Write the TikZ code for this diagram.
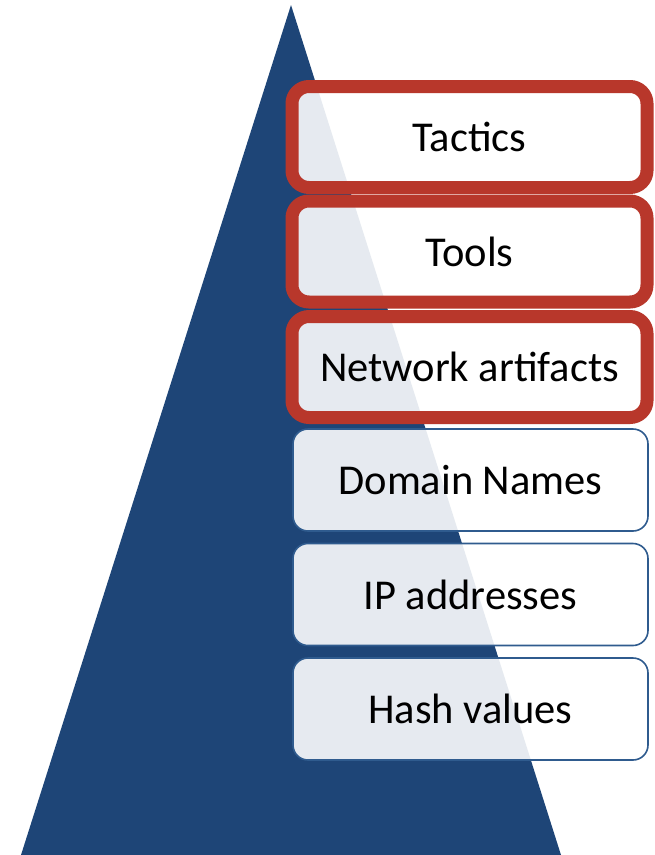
\documentclass[tikz,border=0pt]{standalone}
\usepackage{fontspec}
\setmainfont{Carlito}
\definecolor{pyrblue}{HTML}{1E4577}
\definecolor{boxred}{HTML}{B8372B}
\definecolor{boxblue}{HTML}{2F5B8E}
\tikzset{
  level/.style={rounded corners=15pt, minimum width=355pt, minimum height=102pt,
    fill=white, fill opacity=0.89, text opacity=1, font=\fontsize{42.5}{46}\selectfont,
    inner sep=0pt, text=black},
  redlevel/.style={level, draw=boxred, draw opacity=1, line width=13pt, rounded corners=17pt, minimum height=101pt},
  bluelevel/.style={level, draw=boxblue, draw opacity=1, line width=1.6pt},
}
\begin{document}
\begin{tikzpicture}[x=1pt,y=-1pt]
\useasboundingbox (0,0) rectangle (655,855);
\fill[white] (0,0) rectangle (655,855);
\fill[pyrblue] (291,5) -- (561,855) -- (21,855) -- cycle;
\node[redlevel] (tactics) at (469.5,137) {Tactics};
\node[redlevel] (tools) at (469.5,251.5) {Tools};
\node[redlevel] (netart) at (469.5,367) {Network artifacts};
\node[bluelevel] (domain) at (470.5,480) {Domain Names};
\node[bluelevel] (ip) at (470.5,594.5) {IP addresses};
\node[bluelevel] (hash) at (470.5,709) {Hash values};
\end{tikzpicture}
\end{document}
